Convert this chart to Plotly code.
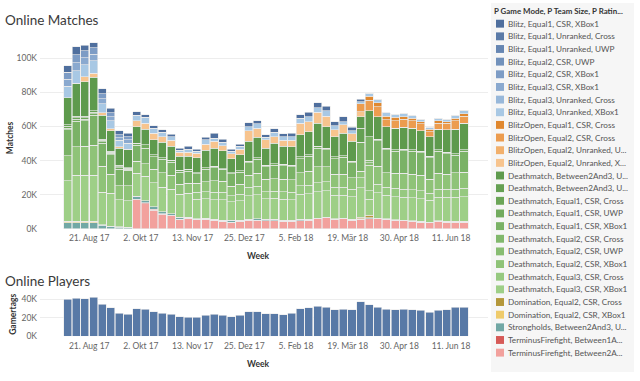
import pandas as pd
import plotly.graph_objects as go

# ---------------- data ----------------
weeks = pd.date_range("2017-07-31", periods=47, freq="7D")
tick_dates = ["2017-08-21", "2017-10-02", "2017-11-13", "2017-12-25",
              "2018-02-05", "2018-03-19", "2018-04-30", "2018-06-11"]
tick_labels = ["21. Aug 17", "2. Okt 17", "13. Nov 17", "25. Dez 17",
               "5. Feb 18", "19. Mär 18", "30. Apr 18", "11. Jun 18"]
matches_ticks = [0, 20, 40, 60, 80, 100]
matches_tick_labels = ["0K", "20K", "40K", "60K", "80K", "100K"]
players_ticks = [0, 20, 40]
players_tick_labels = ["0K", "20K", "40K"]

Z12 = [0] * 12
# values in thousands of matches, one per week
blitz_e1_csr_xbox1 = [3.9, 4.7, 3.3, 2.9, 2.9, 2.7, 2.3, 2.0, 1.9, 1.7, 1.5, 1.5, 1.4, 1.3, 1.6,
                      1.2, 1.4, 2.9, 1.9, 1.3, 1.3, 2.3, 1.9, 1.3, 2.1, 1.6, 2.0, 2.3, 2.5, 2.7,
                      2.7, 2.5, 2.9, 1.9, 1.5] + Z12
blitz_e1_unr_cross = [0] * 47
blitz_e1_unr_uwp = [0] * 47
blitz_e2_csr_uwp = [0] * 47
blitz_e2_csr_xbox1 = [4.1, 4.6, 4.1, 3.9, 2.9, 2.3, 1.7, 1.9] + [0] * 39
blitz_e3_csr_xbox1 = [4.0, 4.6, 4.0, 3.8, 2.9, 2.3, 1.6, 1.9] + [0] * 39
blitz_e3_unr_cross = [0] * 47
blitz_e3_unr_xbox1 = [6.9, 7.3, 6.9, 7.4, 5.4, 4.6, 3.8, 3.5, 3.3, 3.5, 2.9, 2.4, 2.3, 1.2, 1.9,
                      1.4, 2.5, 1.9, 2.0, 1.4, 1.6, 2.3, 2.5, 1.6, 2.4, 2.3, 2.3, 2.9, 2.9, 2.7,
                      3.1, 2.3, 1.9, 1.9, 1.0, 1.9, 1.9, 1.9, 1.7, 1.7, 1.6, 1.4, 0.9, 1.3, 1.4,
                      2.0, 2.0]
blitzopen_e1_csr_cross = [0] * 35 + [2.4, 2.3, 2.3, 1.9, 1.5, 1.3, 1.3, 1.4, 1.6, 1.0, 1.3, 1.5]
blitzopen_e2_csr_cross = [0] * 34 + [4.8, 6.1, 5.8, 3.9, 4.4, 4.7, 4.4, 3.9, 2.9, 3.4, 3.8, 5.0, 4.3]
blitzopen_e2_unr_u = [0] * 47
blitzopen_e2_unr_x = [0, 0, 2.9, 2.3, 1.3, 1.2, 0.8, 0.4, 3.5, 3.4, 3.9, 3.4, 3.4, 2.3, 2.3,
                      2.6, 3.6, 4.1, 3.0, 3.1, 3.4, 6.3, 5.2, 4.8, 3.8, 3.4, 3.8, 6.7, 5.8, 6.6,
                      6.2, 3.9, 4.8, 4.4, 2.9] + Z12
dm_b23_u1 = [15.8, 19.3, 20.2, 19.6, 14.1, 12.1, 10.0, 10.6, 9.6, 9.1, 8.8, 9.1, 8.1, 8.1, 7.7,
             8.7, 10.3, 10.4, 10.4, 8.1, 9.3, 11.6, 12.2, 10.2, 12.1, 10.6, 10.8, 12.9, 13.5, 13.4,
             12.5, 11.9, 13.1, 11.6, 6.7, 15.2, 13.1, 12.5, 12.6, 12.7, 12.6, 12.1, 11.5, 12.0, 13.1,
             14.3, 15.4]
dm_b23_u2 = [0.9, 0.9, 0.9, 0.9, 0.7, 0.6, 0.7, 0.4] + [0] * 26 + [8.3] + Z12
dm_e1_csr_cross = [1.0, 1.0, 0.9, 0.9, 0.8, 0.7, 0.7, 0.4] + [0] * 39
dm_e1_csr_uwp = [1.0, 1.0, 0.9, 0.9, 0.8, 0.7, 0.8, 0.5, 1.2, 1.9, 1.2, 0.9, 1.2, 1.2, 1.2,
                 0.7, 0.9, 1.0, 0.4, 0.7, 0.8, 1.0, 0.9, 0.7, 1.0, 0.8, 0.8, 1.2, 0.9, 1.0,
                 1.0, 1.0, 1.0, 1.0, 0, 0, 1.0, 1.0, 1.0, 1.0, 1.0, 1.0, 0.9, 1.0, 1.0,
                 1.0, 1.0]
dm_e1_csr_xbox1 = [15.1, 15.2, 15.0, 17.4, 13.5, 11.5, 9.8, 9.3, 9.4, 9.2, 7.3, 7.8, 7.7, 7.1, 6.9,
                   5.4, 7.3, 7.5, 7.0, 7.3, 7.1, 7.3, 8.1, 7.4, 7.7, 7.9, 7.7, 8.1, 8.7, 11.0,
                   10.0, 9.2, 10.0, 8.6, 16.8, 13.7, 14.8, 13.5, 12.8, 13.2, 13.4, 13.1, 12.6, 12.8, 11.9,
                   10.2, 12.1]
dm_e2_csr_cross = [0] * 35 + [1.6] + [0] * 11
dm_e2_csr_uwp = [0] * 35 + [1.5] + [0] * 11
dm_e2_csr_xbox1 = [14.8, 16.6, 17.0, 17.7, 15.4, 11.0, 8.2, 8.6, 7.1, 7.2, 7.7, 8.6, 8.1, 5.8, 5.8,
                   5.4, 5.8, 6.9, 6.5, 5.4, 5.8, 7.1, 7.7, 7.3, 7.3, 7.3, 7.3, 7.7, 8.3, 9.2,
                   8.8, 7.7, 7.7, 6.8, 3.8, 14.7, 10.6, 8.6, 8.9, 9.3, 9.1, 9.0, 8.1, 9.3, 8.7,
                   9.6, 9.6]
dm_e3_csr_cross = [0] * 15 + [4.0, 4.0, 4.2, 4.2, 3.7, 4.0, 4.8, 4.9, 4.2, 4.3, 4.3, 4.2, 5.0, 5.1, 5.3,
                              5.3, 4.7, 4.6, 4.5, 6.0, 5.0, 5.1, 4.7, 4.7, 4.6, 4.6, 4.6, 4.3, 4.7, 4.8,
                              4.8, 4.9]
dm_e3_csr_xbox1 = [23.7, 27.0, 27.0, 27.0, 18.9, 19.3, 15.8, 15.6, 13.5, 14.4, 14.1, 14.1, 14.4, 13.5, 14.1,
                   11.4, 11.4, 11.6, 12.2, 10.8, 11.4, 13.9, 14.0, 12.0, 12.3, 12.5, 12.2, 14.6, 14.9, 15.5,
                   15.3, 13.6, 13.3, 13.2, 17.3, 9.6, 14.7, 13.6, 13.6, 13.5, 13.5, 13.4, 12.7, 13.8, 14.1,
                   14.1, 14.4]
dom_e2_csr_cross = [0] * 34 + [0.8, 1.3] + [0] * 11
dom_e2_csr_xbox1 = [0.7, 0.7, 0.7, 0.7, 0.3, 0.2, 0.2, 0.2] + [0] * 39
strongholds_b23 = [3.7, 3.7, 3.7, 3.7, 2.2, 1.5, 1.0, 0.8, 1.6, 1.4, 1.7, 1.3, 1.0, 1.1, 0.5,
                   0.4, 0.8, 0.6, 0.6, 1.0, 0.6, 0.6, 1.0, 0.8, 0.8, 0.6, 0.6, 0.8, 0.6, 0.4,
                   0.3, 0.4, 0.4, 0.6, 0.4, 0.6, 0.4, 0.4, 0.4, 0.4, 0.4, 0.4, 0.3, 0.4, 0.4,
                   0.4, 0.4]
tf_b1a = [0] * 8 + [0.5, 0.4, 0.3, 0.3, 0.2, 0.2, 0.2] + [0] * 32
tf_b2a = [0, 0, 0, 0, 0, 0, 0, 0, 17.0, 14.8, 11.1, 8.6, 7.7, 5.6, 6.2,
          5.6, 5.6, 5.0, 4.4, 4.0, 4.4, 5.0, 5.0, 4.8, 4.8, 4.4, 4.4, 4.8, 5.0, 6.0,
          6.7, 5.6, 6.0, 5.0, 5.6, 6.0, 6.0, 5.6, 5.0, 4.8, 4.4, 4.0, 3.7, 4.4, 4.0,
          4.0, 4.0]

# thousands of gamertags per week
players = [40.0, 41.4, 40.7, 42.0, 34.7, 30.8, 24.8, 23.7, 30.0, 29.4, 26.5, 25.1, 23.7, 21.2, 20.5,
           20.5, 23.0, 23.7, 23.0, 21.2, 22.7, 26.5, 26.5, 24.4, 24.4, 23.4, 24.8, 30.0, 30.8, 32.3,
           31.2, 28.7, 29.4, 28.7, 37.2, 34.0, 31.2, 29.4, 28.7, 29.4, 28.7, 28.0, 25.8, 28.0, 28.7,
           31.2, 31.2]

legend_title = "P Game Mode, P Team Size, P Ratin..."
series = [
    ("Blitz, Equal1, CSR, XBox1", "#4f6f9e", blitz_e1_csr_xbox1),
    ("Blitz, Equal1, Unranked, Cross", "#5b7ba8", blitz_e1_unr_cross),
    ("Blitz, Equal1, Unranked, UWP", "#6686b2", blitz_e1_unr_uwp),
    ("Blitz, Equal2, CSR, UWP", "#7191bb", blitz_e2_csr_uwp),
    ("Blitz, Equal2, CSR, XBox1", "#7d9cc5", blitz_e2_csr_xbox1),
    ("Blitz, Equal3, CSR, XBox1", "#8aa9cf", blitz_e3_csr_xbox1),
    ("Blitz, Equal3, Unranked, Cross", "#98b8da", blitz_e3_unr_cross),
    ("Blitz, Equal3, Unranked, XBox1", "#a8c8e4", blitz_e3_unr_xbox1),
    ("BlitzOpen, Equal1, CSR, Cross", "#e0882f", blitzopen_e1_csr_cross),
    ("BlitzOpen, Equal2, CSR, Cross", "#ec9c4f", blitzopen_e2_csr_cross),
    ("BlitzOpen, Equal2, Unranked, U...", "#f2b06c", blitzopen_e2_unr_u),
    ("BlitzOpen, Equal2, Unranked, X...", "#f7c48e", blitzopen_e2_unr_x),
    ("Deathmatch, Between2And3, U...", "#5e9a4d", dm_b23_u1),
    ("Deathmatch, Between2And3, U...", "#65a053", dm_b23_u2),
    ("Deathmatch, Equal1, CSR, Cross", "#6ba557", dm_e1_csr_cross),
    ("Deathmatch, Equal1, CSR, UWP", "#72ab5e", dm_e1_csr_uwp),
    ("Deathmatch, Equal1, CSR, XBox1", "#7ab266", dm_e1_csr_xbox1),
    ("Deathmatch, Equal2, CSR, Cross", "#81b86c", dm_e2_csr_cross),
    ("Deathmatch, Equal2, CSR, UWP", "#88bd72", dm_e2_csr_uwp),
    ("Deathmatch, Equal2, CSR, XBox1", "#8fc378", dm_e2_csr_xbox1),
    ("Deathmatch, Equal3, CSR, Cross", "#96c980", dm_e3_csr_cross),
    ("Deathmatch, Equal3, CSR, XBox1", "#9ecf87", dm_e3_csr_xbox1),
    ("Domination, Equal2, CSR, Cross", "#b4973a", dom_e2_csr_cross),
    ("Domination, Equal2, CSR, XBox1", "#efcb6b", dom_e2_csr_xbox1),
    ("Strongholds, Between2And3, U...", "#72a8a5", strongholds_b23),
    ("TerminusFirefight, Between1A...", "#d65a57", tf_b1a),
    ("TerminusFirefight, Between2A...", "#f2a19d", tf_b2a),
]

# ---------------- figure ----------------
W, H = 640, 381
FONT = "Lato, 'Open Sans', sans-serif"
WEEK_MS = 7 * 24 * 3600 * 1000
EDGE = dict(color="rgba(235,235,235,0.9)", width=0.7)


def px(x):
    return x / W


def py(y):
    return 1 - y / H


fig = go.Figure()
for name, color, vals in reversed(series):
    fig.add_trace(go.Bar(
        x=weeks, y=vals, name=name, showlegend=False,
        marker=dict(color=color, line=EDGE),
        xperiod=WEEK_MS, xperiod0="2017-07-31", xperiodalignment="middle",
        xaxis="x", yaxis="y", hoverinfo="skip"))

fig.add_trace(go.Bar(
    x=weeks, y=players, name="Gamertags", showlegend=False,
    marker=dict(color="#5879a6", line=EDGE),
    xperiod=WEEK_MS, xperiod0="2017-07-31", xperiodalignment="middle",
    xaxis="x2", yaxis="y2", hoverinfo="skip"))

tickfont = dict(family=FONT, size=8.5, color="#666666")
xcommon = dict(type="date", range=["2017-07-12", "2018-07-11"],
               tickvals=tick_dates, ticktext=tick_labels, tickfont=tickfont,
               showgrid=False, zeroline=False, showline=False, ticks="",
               domain=[px(40), px(488)], ticklabelstandoff=3)
ycommon = dict(tickfont=tickfont, showgrid=True, gridcolor="#ededed", gridwidth=1,
               zeroline=False, showline=False, ticks="", ticklabelstandoff=2)

fig.update_layout(
    width=W, height=H, autosize=False,
    margin=dict(l=0, r=0, t=0, b=0),
    paper_bgcolor="white", plot_bgcolor="white",
    barmode="stack", bargap=0.07,
    font=dict(family=FONT, color="#333333"),
    showlegend=False,
    xaxis=dict(anchor="y", **xcommon),
    yaxis=dict(anchor="x", domain=[py(232), py(38)], range=[0, 112.1],
               tickvals=matches_ticks, ticktext=matches_tick_labels, **ycommon),
    xaxis2=dict(anchor="y2", **xcommon),
    yaxis2=dict(anchor="x2", domain=[py(340.7), py(296)], range=[0, 47.8],
                tickvals=players_ticks, ticktext=players_tick_labels, **ycommon),
)

annotations = []
shapes = []


def text(x, y, s, size, color="#333333", bold=False, xanchor="left", angle=0):
    annotations.append(dict(
        x=px(x), y=py(y), xref="paper", yref="paper", text=f"<b>{s}</b>" if bold else s,
        showarrow=False, xanchor=xanchor, yanchor="middle", textangle=angle, borderpad=0,
        font=dict(family=FONT, size=size, color=color)))


text(4, 20, "Online Matches", 13.5, "#3a3a3a")
text(4, 285, "Online Players", 13.5, "#3a3a3a")
text(10, 140, "Matches", 8.5, "#333333", bold=True, xanchor="center", angle=-90)
text(13, 319, "Gamertags", 8.5, "#333333", bold=True, xanchor="center", angle=-90)
text(258, 259, "Week", 8.5, "#333333", bold=True, xanchor="center")
text(258, 369, "Week", 8.5, "#333333", bold=True, xanchor="center")

# legend panel (Tableau style)
shapes.append(dict(type="rect", xref="paper", yref="paper", x0=px(491), x1=px(634),
                   y0=py(377), y1=py(3), fillcolor="#f6f6f6", line=dict(width=0), layer="below"))
text(493, 11, legend_title, 7.9, "#333333", bold=True)
for i, (name, color, _) in enumerate(series):
    yc = 24 + i * 12.82
    shapes.append(dict(type="rect", xref="paper", yref="paper", x0=px(496), x1=px(504),
                       y0=py(yc + 4), y1=py(yc - 4), fillcolor=color, line=dict(width=0)))
    text(507, yc, name, 8.2, "#555555")

fig.update_layout(annotations=annotations, shapes=shapes)
fig.write_html("out.html", config={"displayModeBar": False},
               post_script="document.body.style.margin='0';document.body.style.overflow='hidden';")
